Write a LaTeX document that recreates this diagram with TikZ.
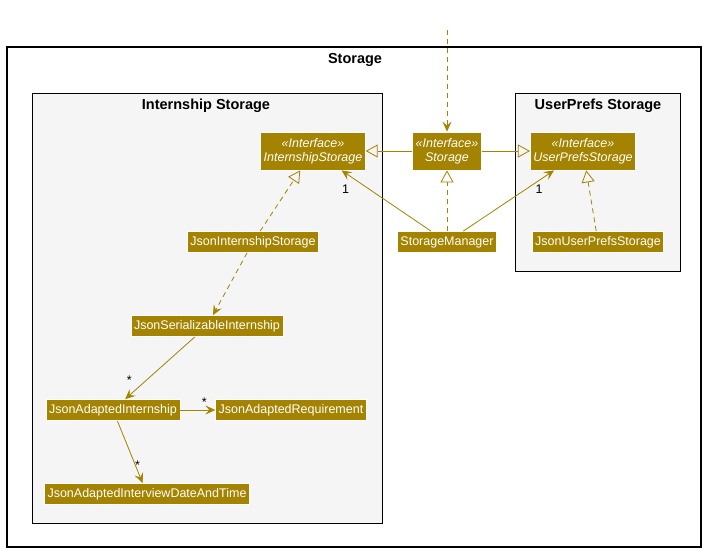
\documentclass[tikz,border=0pt]{standalone}
\usepackage{fontspec}
\setmainfont{Liberation Sans}
\usetikzlibrary{arrows.meta}

\definecolor{storagegold}{HTML}{A38300}
\definecolor{pkgback}{HTML}{F4F5F4}

\tikzset{
  cls/.style={fill=storagegold, draw=white, line width=0.8pt, text=white,
    inner xsep=3pt, inner ysep=3pt, minimum height=21pt,
    font=\fontsize{12.5}{14}\selectfont},
  iface/.style={cls, align=center, minimum height=38pt,
    font=\fontsize{12.5}{14}\selectfont\itshape},
  pkg/.style={draw=black, line width=1pt, fill=pkgback},
  pkgtitle/.style={font=\fontsize{14.5}{16}\selectfont\bfseries},
  link/.style={draw=storagegold, line width=0.8pt},
  assoc/.style={link, -{Stealth[length=10pt,width=9pt,inset=4pt]}},
  dep/.style={assoc, dash pattern=on 5pt off 4pt},
  gen/.style={link, -{Triangle[open,length=12pt,width=13pt]}},
  real/.style={gen, dash pattern=on 5pt off 4pt},
  mult/.style={text=black, font=\fontsize{12.5}{13}\selectfont, inner sep=0pt}
}

\begin{document}
\begin{tikzpicture}[x=1pt,y=-1pt]% [ show background grid ]
\useasboundingbox (0,0) rectangle (708,552);

% packages
\draw[draw=black, line width=1.2pt, fill=white] (7,47) rectangle (701,547);
\node[pkgtitle] (StorageTitle) at (355,60) {Storage};
\draw[pkg] (32,93) rectangle (382,523);
\node[pkgtitle] (InternshipTitle) at (206,106) {Internship Storage};
\draw[pkg] (515,93) rectangle (680,271);
\node[pkgtitle] (UserPrefsTitle) at (598,106) {UserPrefs Storage};

% interfaces
\node[iface] (InternshipStorage) at (313,151) {«Interface»\\InternshipStorage};
\node[iface] (Storage) at (447,151) {«Interface»\\Storage};
\node[iface] (UserPrefsStorage) at (583,151) {«Interface»\\UserPrefsStorage};

% classes
\node[cls] (JsonInternshipStorage) at (253,242) {JsonInternshipStorage};
\node[cls] (StorageManager) at (447,242) {StorageManager};
\node[cls] (JsonUserPrefsStorage) at (598,242) {JsonUserPrefsStorage};
\node[cls] (JsonSerializableInternship) at (207,326) {JsonSerializableInternship};
\node[cls] (JsonAdaptedInternship) at (113,410) {JsonAdaptedInternship};
\node[cls] (JsonAdaptedRequirement) at (291,410) {JsonAdaptedRequirement};
\node[cls] (JsonAdaptedInterviewDateAndTime) at (147,494) {JsonAdaptedInterviewDateAndTime};

\coordinate (StorageUser) at (447,30);

% connectors
\draw[dep] (StorageUser) -- (Storage);
\draw[gen] (Storage) -- (InternshipStorage);
\draw[gen] (Storage) -- (UserPrefsStorage);
\draw[real] (StorageManager) -- (Storage);
\draw[assoc] (StorageManager) -- (InternshipStorage)
  node[mult, at end, xshift=4pt, yshift=-19pt] {1};
\draw[assoc] (StorageManager) -- (UserPrefsStorage)
  node[mult, at end, xshift=-15pt, yshift=-19pt] {1};
\draw[real] (JsonInternshipStorage) -- (InternshipStorage);
\draw[real] (JsonUserPrefsStorage) -- (UserPrefsStorage);
\draw[dep] (JsonInternshipStorage) -- (JsonSerializableInternship);
\draw[assoc] (JsonSerializableInternship) -- (JsonAdaptedInternship)
  node[mult, at end, xshift=4pt, yshift=19pt] {*};
\draw[assoc] (JsonAdaptedInternship) -- (JsonAdaptedRequirement)
  node[mult, at end, xshift=-11pt, yshift=8pt] {*};
\draw[assoc] (JsonAdaptedInternship) -- (JsonAdaptedInterviewDateAndTime)
  node[mult, at end, xshift=-5pt, yshift=18pt] {*};

\end{tikzpicture}
\end{document}
